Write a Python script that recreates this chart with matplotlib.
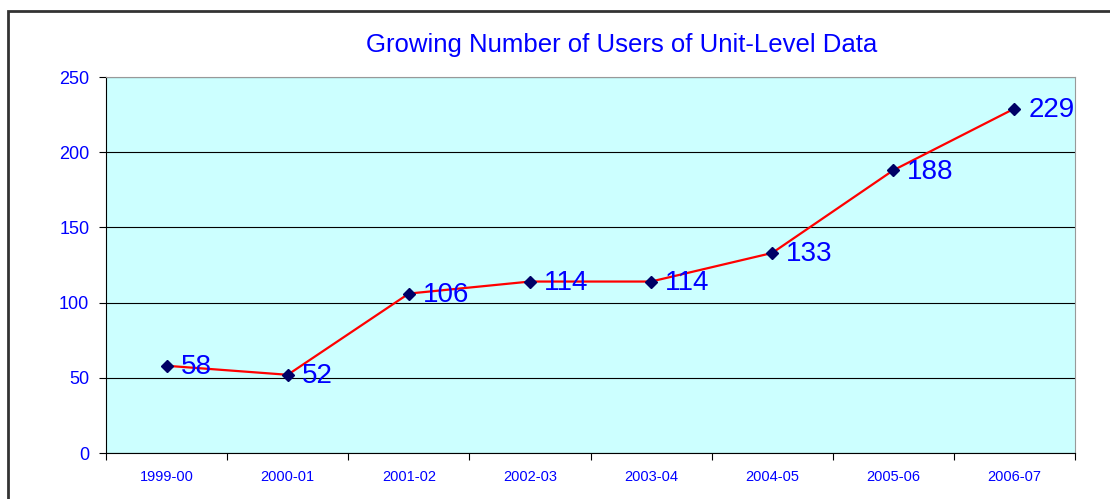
import matplotlib.pyplot as plt
import matplotlib.patches as patches

# Data
years = ["1999-00", "2000-01", "2001-02", "2002-03", "2003-04", "2004-05", "2005-06", "2006-07"]
users = [58, 52, 106, 114, 114, 133, 188, 229]

plt.rcParams['font.family'] = ['Liberation Sans', 'DejaVu Sans']

fig = plt.figure(figsize=(11.1, 4.99), dpi=100)
ax = fig.add_axes([106 / 1110, 1 - 453 / 499, 969 / 1110, 376 / 499])

# outer chart border (only left/top visible in crop)
fig.patches.append(patches.Rectangle((8 / 1110, -0.1), 1.2, 1 - 11 / 499 + 0.1,
                                     transform=fig.transFigure, fill=False,
                                     edgecolor="#333333", linewidth=2, zorder=0))

ax.set_facecolor("#CCFFFF")
x = list(range(len(years)))
ax.plot(x, users, color="red", linewidth=1.6, zorder=3)
ax.plot(x, users, linestyle="none", marker="D", markersize=6.5,
        color="#000066", zorder=4)
for xi, v in zip(x, users):
    ax.annotate(str(v), (xi, v), xytext=(10, -1), textcoords="offset points",
                va="center", ha="left", fontsize=20, color="blue", zorder=5)

ax.set_xlim(-0.5, len(years) - 0.5)
ax.set_ylim(0, 250)
ax.set_yticks([0, 50, 100, 150, 200, 250])
ax.yaxis.grid(True, color="black", linewidth=0.8)
ax.set_axisbelow(True)

ax.set_xticks([i - 0.5 for i in range(len(years) + 1)])
ax.set_xticklabels([])
ax.set_xticks(x, minor=True)
ax.set_xticklabels(years, minor=True, fontsize=10.5, color="blue")
ax.tick_params(axis="x", which="minor", length=0, pad=12)
ax.tick_params(axis="x", which="major", length=5, color="black")
ax.tick_params(axis="y", length=5, labelsize=13, labelcolor="blue", pad=7)

for side in ["top", "right"]:
    ax.spines[side].set_color("#999999")
for side in ["left", "bottom"]:
    ax.spines[side].set_color("black")

fig.text(622 / 1110, 1 - 45 / 499, "Growing Number of Users of Unit-Level Data",
         ha="center", va="center", fontsize=18.5, color="blue")

fig.savefig("out.png", dpi=100)
